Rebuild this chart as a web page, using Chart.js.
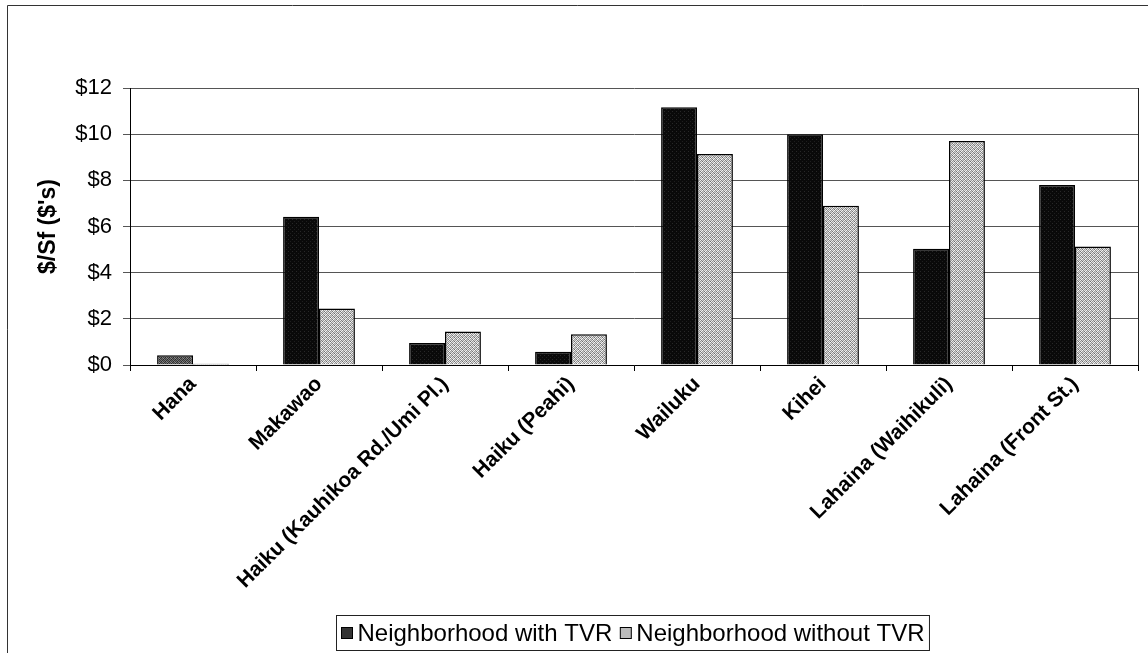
<!DOCTYPE html>
<html>
<head>
<meta charset="utf-8">
<script src="https://cdn.jsdelivr.net/npm/chart.js@4.4.1/dist/chart.umd.min.js"></script>
<style>
  html, body { margin: 0; padding: 0; background: #fff; }
  canvas { display: block; }
</style>
</head>
<body>
<canvas id="chart" width="1148" height="653"></canvas>
<script>
// Neighborhood rent comparison, $ per square foot
const categories = [
  'Hana', 'Makawao', 'Haiku (Kauhikoa Rd./Umi Pl.)', 'Haiku (Peahi)',
  'Wailuku', 'Kihei', 'Lahaina (Waihikuli)', 'Lahaina (Front St.)'
];
const withTVR    = [0.42, 6.42, 0.95, 0.57, 11.17, 10.0, 5.04, 7.8];
const withoutTVR = [0.05, 2.45, 1.45, 1.33, 9.14, 6.9, 9.7, 5.13];
const seriesNames = ['Neighborhood with TVR', 'Neighborhood without TVR'];
const yTicks = [0, 2, 4, 6, 8, 10, 12];

const FONT = "'Liberation Sans', Arial, sans-serif";

// small stipple tiles so the bars get the printed dot texture
function makePattern(grays) {
  const n = Math.sqrt(grays.length);
  const c = document.createElement('canvas');
  c.width = n; c.height = n;
  const g = c.getContext('2d');
  const img = g.createImageData(n, n);
  grays.forEach((v, i) => {
    img.data[i * 4] = v; img.data[i * 4 + 1] = v; img.data[i * 4 + 2] = v; img.data[i * 4 + 3] = 255;
  });
  g.putImageData(img, 0, 0);
  return g.createPattern(c, 'repeat');
}
const ctx0 = document.getElementById('chart').getContext('2d');
const lightFill = makePattern([
  235, 130, 210, 160,
  150, 220, 110, 240,
  225, 170, 245, 140,
  120, 250, 160, 205
]);
const darkFill = makePattern([
  10, 10, 10, 10,
  10, 10, 30, 10,
  10, 10, 10, 10,
  40, 10, 10, 10
]);
const hanaFill = makePattern([
  60, 120, 50, 100,
  110, 40, 130, 60,
  50, 100, 70, 140,
  120, 60, 110, 40
]);

// outer frame of the chart object and the right edge of the plot area
const framePlugin = {
  id: 'frame',
  beforeDraw(chart) {
    const c = chart.ctx;
    c.save();
    c.strokeStyle = '#333';
    c.lineWidth = 1;
    c.beginPath();
    c.moveTo(7.5, 653); c.lineTo(7.5, 5.5); c.lineTo(1148, 5.5);
    c.stroke();
    c.restore();
  },
  afterDatasetsDraw(chart) {
    const a = chart.chartArea, c = chart.ctx;
    c.save();
    c.strokeStyle = '#222';
    c.lineWidth = 1;
    c.beginPath();
    c.moveTo(Math.round(a.right) + 0.5, a.top);
    c.lineTo(Math.round(a.right) + 0.5, a.bottom);
    c.stroke();
    c.restore();
  }
};

// boxed legend under the axis labels
const boxLegend = {
  id: 'boxLegend',
  afterDraw(chart) {
    const c = chart.ctx;
    c.save();
    c.font = '24px ' + FONT;
    const sq = 11, gapSq = 5, gapItem = 8, pad = 5;
    const items = chart.data.datasets.map(ds => ({ text: ds.label, fill: ds.legendFill, w: c.measureText(ds.label).width }));
    let total = pad * 2;
    items.forEach((it, i) => { total += sq + gapSq + it.w + (i ? gapItem : 0); });
    const cx = 632.5, top = 615.5, h = 35;
    let x = Math.round(cx - total / 2) + 0.5;
    c.fillStyle = '#fff';
    c.strokeStyle = '#222';
    c.lineWidth = 1;
    c.fillRect(x, top, total, h);
    c.strokeRect(x, top, total, h);
    let px = x + pad;
    const my = top + h / 2;
    items.forEach((it, i) => {
      if (i) px += gapItem;
      c.fillStyle = it.fill;
      c.fillRect(px, my - sq / 2, sq, sq);
      c.strokeStyle = '#000';
      c.strokeRect(px, my - sq / 2, sq, sq);
      px += sq + gapSq;
      c.fillStyle = '#000';
      c.textBaseline = 'middle';
      c.fillText(it.text, px, my + 1);
      px += it.w;
    });
    c.restore();
  }
};

new Chart(ctx0, {
  type: 'bar',
  data: {
    labels: categories,
    datasets: [
      {
        label: seriesNames[0],
        data: withTVR,
        backgroundColor: ctx => (ctx.dataIndex === 0 ? hanaFill : darkFill),
        legendFill: '#333',
        borderColor: '#000',
        borderWidth: 1.5,
        categoryPercentage: 0.57,
        barPercentage: 1.0
      },
      {
        label: seriesNames[1],
        data: withoutTVR,
        backgroundColor: lightFill,
        legendFill: '#bbb',
        borderColor: '#000',
        borderWidth: 1.5,
        categoryPercentage: 0.57,
        barPercentage: 1.0
      }
    ]
  },
  options: {
    responsive: false,
    animation: false,
    devicePixelRatio: 1,
    layout: { padding: { top: 88, right: 10, left: 0, bottom: 0 } },
    plugins: {
      legend: { display: false },
      tooltip: { enabled: false }
    },
    scales: {
      x: {
        afterFit(scale) { scale.height = 288; },
        grid: { display: true, drawOnChartArea: false, drawTicks: true, tickLength: 6, color: '#000', offset: true },
        border: { color: '#000', width: 1 },
        ticks: {
          autoSkip: false,
          maxRotation: 45,
          minRotation: 45,
          padding: 1,
          color: '#000',
          font: { family: FONT, size: 21, weight: 'bold' }
        }
      },
      y: {
        min: 0,
        max: 12,
        afterFit(scale) { scale.width = 130; },
        afterBuildTicks(scale) { scale.ticks = yTicks.map(v => ({ value: v })); },
        grid: { color: '#555', lineWidth: 1, tickLength: 7, drawTicks: true },
        border: { color: '#000', width: 1 },
        ticks: {
          padding: 11,
          color: '#000',
          font: { family: FONT, size: 22 },
          callback: v => '$' + v
        },
        title: {
          display: true,
          text: "$/Sf ($'s)",
          color: '#000',
          padding: { top: 35, bottom: 0 },
          font: { family: FONT, size: 23, weight: 'bold' }
        }
      }
    }
  },
  plugins: [framePlugin, boxLegend]
});
</script>
</body>
</html>
